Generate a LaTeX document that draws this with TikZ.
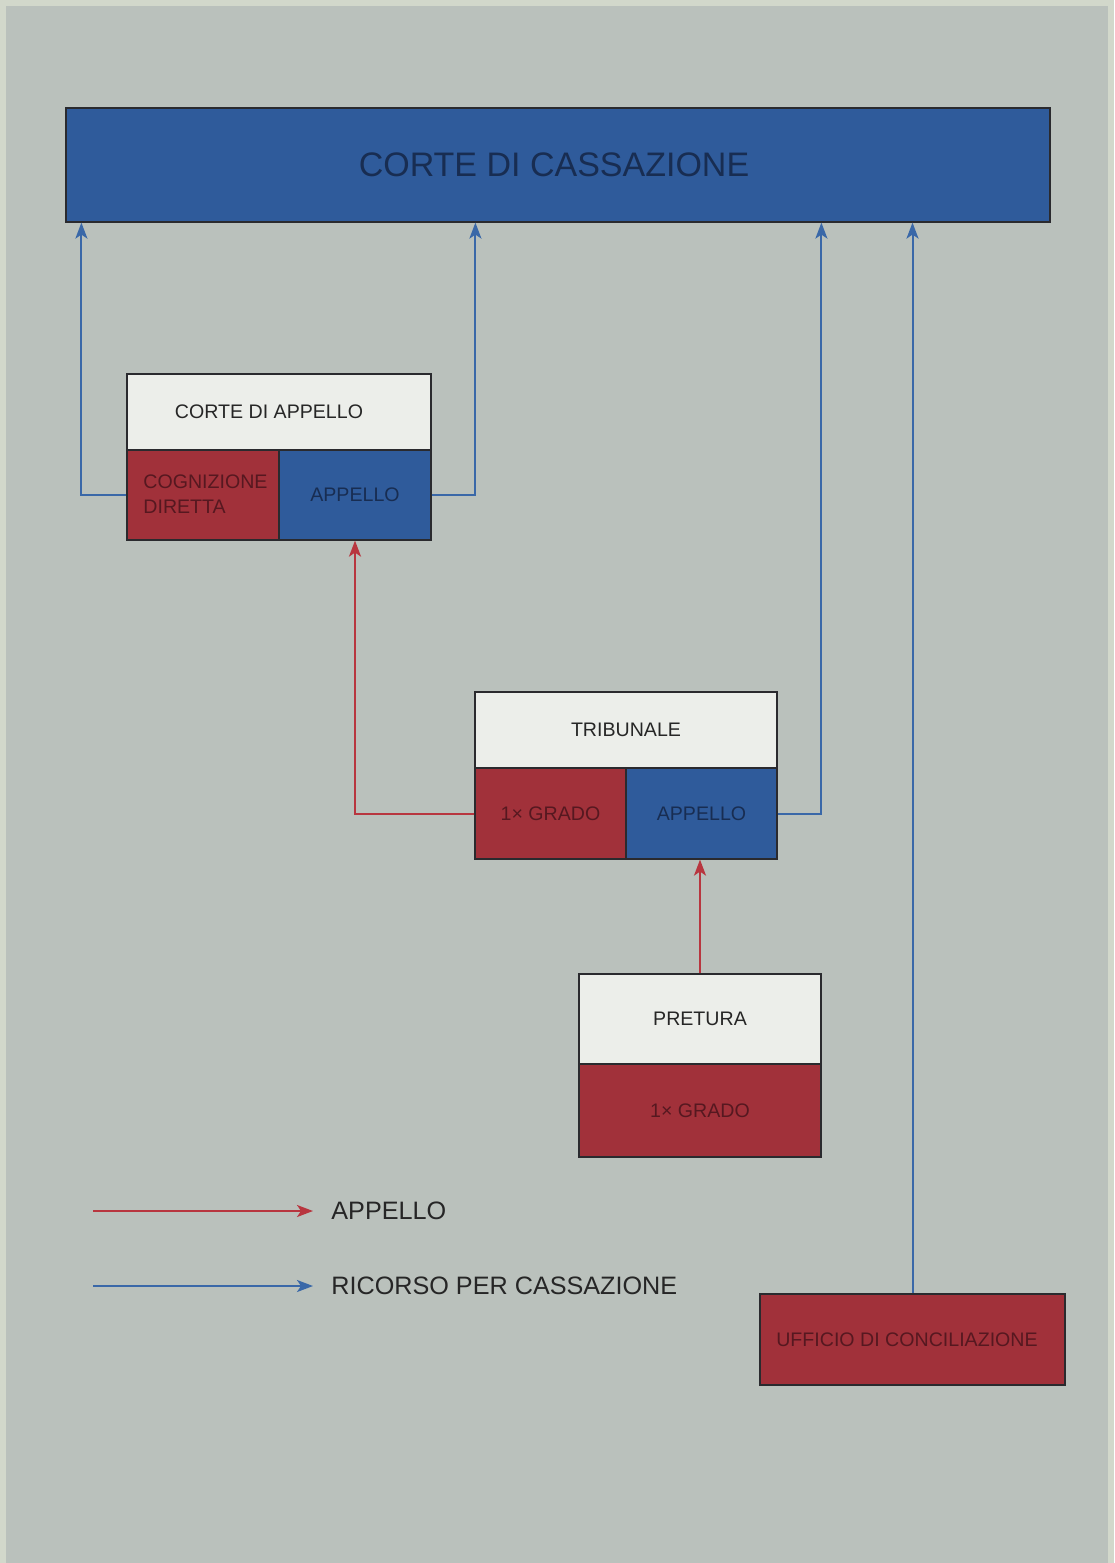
\documentclass[tikz,border=0pt]{standalone}
\usepackage{fontspec}
\setmainfont{Liberation Sans}
\usetikzlibrary{arrows.meta,calc}
\definecolor{bgpale}{HTML}{D2D8CB}
\definecolor{bggrey}{HTML}{BAC1BC}
\definecolor{cellblue}{HTML}{2F5B9B}
\definecolor{cellred}{HTML}{A1313A}
\definecolor{cellwhite}{HTML}{ECEEEA}
\definecolor{edge}{HTML}{2A2A2E}
\definecolor{txtdark}{HTML}{262626}
\definecolor{txtred}{HTML}{561820}
\definecolor{txtblue}{HTML}{182D52}
\definecolor{lineblue}{HTML}{3A68A8}
\definecolor{linered}{HTML}{B8363F}
\begin{document}
\begin{tikzpicture}[x=0.5pt,y=-0.5pt,
  cell/.style={draw=edge, line width=0.6pt, inner sep=0pt, font=\fontsize{9.8}{12}\selectfont},
  wcell/.style={cell, fill=cellwhite, text=txtdark},
  rcell/.style={cell, fill=cellred, text=txtred},
  bcell/.style={cell, fill=cellblue, text=txtblue},
  tipstyle/.style={-{Stealth[length=8pt,width=6pt,inset=2pt]}},
  ric/.style={draw=lineblue, line width=1pt, tipstyle},
  app/.style={draw=linered, line width=1pt, tipstyle},
  legtext/.style={anchor=west, inner sep=0pt, text=txtdark, font=\fontsize{12.6}{15}\selectfont}
]
\useasboundingbox (0,0) rectangle (1114,1563);
\fill[bgpale] (0,0) rectangle (1114,1563);
\fill[bggrey] (6,6) rectangle (1108,1563);

% Corte di Cassazione
\node[bcell, minimum width=492pt, minimum height=57pt, font=\fontsize{17}{20}\selectfont] (cass) at (558,165) {\hspace*{-4pt}CORTE DI CASSAZIONE};

% Corte di Appello
\node[wcell, minimum width=152pt, minimum height=38pt] (caT) at (279,412) {\hspace*{-10pt}CORTE DI APPELLO};
\node[rcell, minimum width=76pt, minimum height=45pt] (caL) at (203,495) {};
\node[anchor=west, align=left, inner sep=0pt, text=txtred, font=\fontsize{9.8}{12.5}\selectfont] (caLtxt) at (143,494) {COGNIZIONE\\DIRETTA};
\node[bcell, minimum width=76pt, minimum height=45pt] (caR) at (355,495) {APPELLO};

% Tribunale
\node[wcell, minimum width=151pt, minimum height=38pt] (trT) at (626,730) {TRIBUNALE};
\node[rcell, minimum width=75.5pt, minimum height=45.5pt] (trL) at (550.5,813.5) {1\texttimes\ GRADO};
\node[bcell, minimum width=75.5pt, minimum height=45.5pt] (trR) at (701.5,813.5) {APPELLO};

% Pretura
\node[wcell, minimum width=121pt, minimum height=45pt] (prT) at (700,1019) {PRETURA};
\node[rcell, minimum width=121pt, minimum height=46.5pt] (prB) at (700,1110.5) {1\texttimes\ GRADO};

% Ufficio di conciliazione
\node[rcell, minimum width=152.5pt, minimum height=45.5pt] (uff) at (912.5,1339.5) {\hspace*{-5.5pt}UFFICIO DI CONCILIAZIONE};

% Ricorso per cassazione connectors
\draw[ric] (caL.west) -| ([xshift=8pt]cass.south west);
\draw[ric] (caR.east) -| ([xshift=205pt]cass.south west);
\draw[ric] (trR.east) -| ([xshift=378pt]cass.south west);
\draw[ric] (uff.north) -- (uff.north |- cass.south);

% Appello connectors
\draw[app] (trL.west) -| (caR.south);
\draw[app] (prT.north) -- (prT.north |- trR.south);

% Legend
\node[legtext] (legA) at (331,1211) {APPELLO};
\node[legtext] (legR) at (331,1286) {RICORSO PER CASSAZIONE};
\coordinate (legAs) at (93,1211);
\coordinate (legRs) at (93,1286);
\draw[app] (legAs) -- ([xshift=-9pt]legA.west);
\draw[ric] (legRs) -- ([xshift=-9pt]legR.west);
\end{tikzpicture}
\end{document}
